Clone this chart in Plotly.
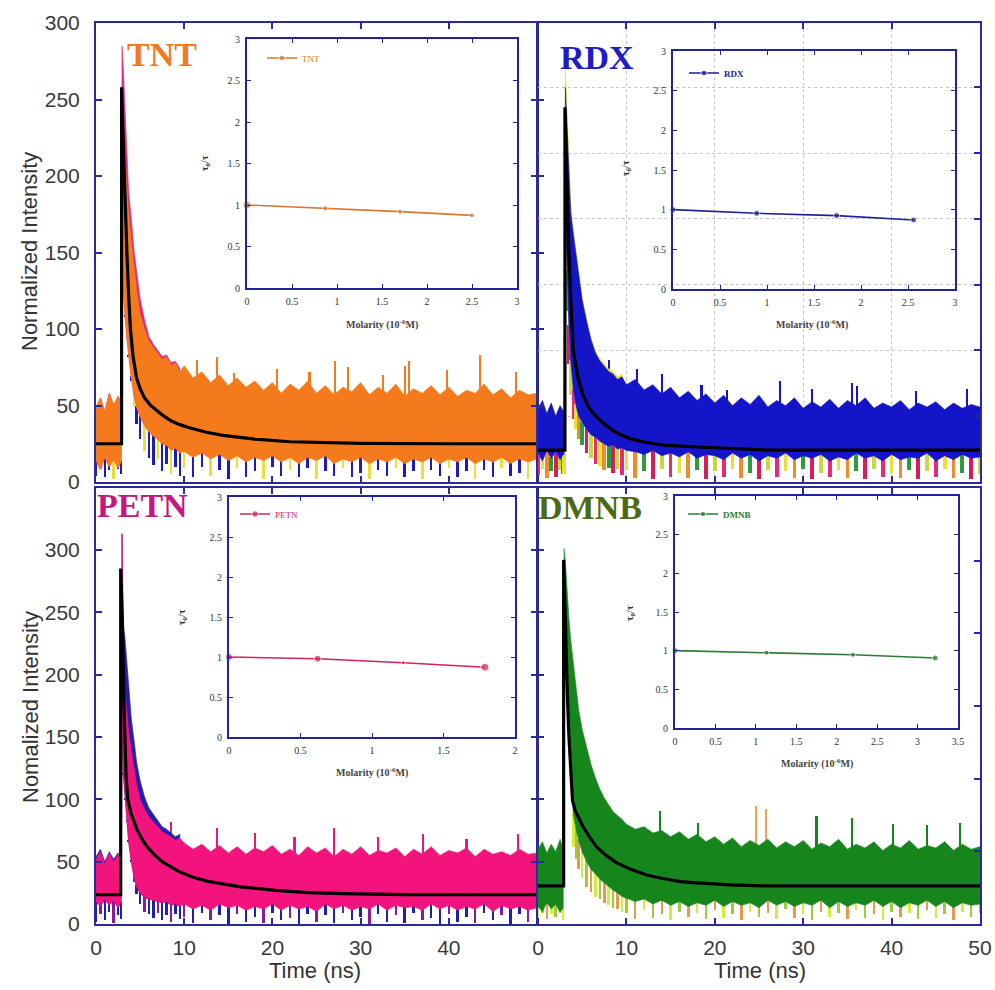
import numpy as np
import plotly.graph_objects as go

# ---------------- time grid (ns) shared by the decay envelopes ----------------
T = [0, 0.5, 1, 1.5, 2, 2.5, 2.85,
     2.95, 3.1, 3.3, 3.5, 3.7, 4.0, 4.3, 4.6, 5.0, 5.5, 6.0, 6.5, 7.0, 7.5, 8.0, 8.5, 9.0, 9.5] + list(range(10, 51))
T_EARLY = T[:25]

# ---------------- TNT decay (normalized counts) ----------------
tnt_hi = [48, 55, 46, 58, 50, 56, 52,
          250, 232, 212, 192, 176, 158, 140, 126, 110, 100, 92, 88, 84, 80, 82, 76, 78, 72,
          76, 68, 72, 65, 70, 63, 68, 62, 66, 60,
          65, 58, 64, 60, 66, 58, 63, 57, 62, 59,
          65, 57, 62, 58, 64, 56, 61, 58, 63, 57,
          62, 56, 60, 58, 64, 57, 61, 55, 60, 57, 58]
tnt_lo = [14, 8, 16, 10, 15, 9, 13,
          150, 125, 108, 94, 82, 68, 57, 49, 43, 37, 33, 30, 28, 25, 24, 21, 22, 19,
          20, 16, 19, 15, 18, 14, 17, 13, 16, 14,
          17, 13, 16, 12, 16, 14, 17, 12, 15, 13,
          16, 12, 15, 13, 16, 12, 15, 13, 16, 12,
          15, 13, 16, 12, 15, 13, 16, 12, 15, 13, 15]
tnt_lo2 = [4, 10, 3, 8, 2, 9, 5,
           150, 125, 108, 94, 82, 66, 50, 38, 28, 20, 16, 11, 15, 7, 12, 5, 10, 4,
           9, 3, 10, 4, 8, 2, 9, 3, 7, 2,
           10, 4, 8, 3, 9, 2, 7, 4, 9, 3,
           6, 2, 8, 4, 9, 3, 7, 2, 8, 4,
           9, 3, 7, 2, 8, 3, 9, 4, 6, 2, 8]
tnt_hi2 = [48, 55, 46, 58, 50, 56, 52,
           285, 270, 240, 210, 190, 172, 152, 138, 120, 106, 95, 90, 86, 82, 83, 78, 79, 74]
tnt_spk_t = [11.5, 13.7, 15.6, 20.5, 24.2, 27.1, 28.6, 32.5, 35.0, 35.5, 39.8, 43.5, 47.6]
tnt_spk_v = [80, 82, 71, 74, 72, 79, 75, 70, 76, 79, 73, 83, 72]
tnt_fit_t = [0, 2.9, 2.9, 3.05, 3.2, 3.35, 3.5, 3.7, 3.9, 4.2, 4.6, 5.0, 5.5, 6.2, 6.9, 7.7,
             8.5, 9.5, 10.6, 12.5, 14.4, 18, 22, 26, 30, 40, 50]
tnt_fit_v = [25, 25, 258, 228, 200, 174, 150, 122, 100, 82, 68, 61, 55, 50, 46.5, 43,
             40, 37.5, 35.5, 32.5, 30.5, 28, 26.3, 25.5, 25.2, 25, 25]

# ---------------- RDX decay ----------------
rdx_hi = [55, 62, 52, 60, 50, 58, 54,
          54, 300, 265, 232, 205, 188, 172, 155, 138, 122, 108, 98, 92, 88, 84, 82, 78, 80,
          74, 78, 70, 74, 67, 72, 64, 69, 62, 67,
          60, 66, 58, 64, 59, 66, 57, 62, 58, 64,
          56, 61, 57, 63, 56, 62, 58, 64, 56, 60,
          57, 62, 55, 60, 57, 61, 55, 60, 56, 59, 57]
rdx_lo = [22, 16, 24, 18, 23, 17, 21,
          21, 210, 160, 118, 92, 70, 58, 50, 45, 40, 36, 34, 31, 29, 27, 28, 25, 26,
          24, 23, 21, 24, 20, 22, 19, 23, 18, 21,
          20, 17, 22, 18, 21, 16, 20, 18, 22, 17,
          20, 18, 21, 16, 19, 17, 22, 18, 20, 16,
          21, 17, 19, 18, 22, 16, 20, 17, 21, 18, 19]
rdx_lo2 = [5, 10, 3, 8, 4, 9, 6,
           6, 210, 130, 90, 66, 48, 40, 33, 28, 22, 18, 14, 12, 9, 11, 7, 10, 5,
           9, 3, 8, 2, 10, 4, 7, 3, 9, 2,
           8, 4, 10, 3, 7, 2, 9, 4, 8, 3,
           10, 2, 7, 4, 9, 3, 8, 2, 10, 4,
           7, 3, 9, 2, 8, 4, 10, 3, 7, 2, 6]
rdx_hi2 = [55, 62, 52, 60, 50, 58, 54,
           54, 315, 280, 240, 212, 192, 176, 158, 141, 124, 110, 100, 94, 90, 86, 84, 80, 82]
rdx_spk_t = [8.0, 11.2, 14.0, 18.5, 21.4, 27.4, 31.0, 35.5, 36.1, 42.8, 48.5]
rdx_spk_v = [93, 86, 82, 74, 70, 77, 71, 75, 73, 69, 71]
rdx_fit_t = [0, 3.05, 3.05, 3.2, 3.35, 3.5, 3.7, 4.0, 4.5, 5.1, 5.8, 6.7, 7.6, 8.5, 9.5,
             10.4, 12.3, 14.2, 18, 21.7, 25.5, 30, 40, 50]
rdx_fit_v = [24.3, 24.3, 285, 245, 205, 175, 140, 100, 80, 66, 56, 49, 43.5, 39, 35.5,
             33, 30, 28, 26.6, 25.5, 24.5, 24.3, 24.3, 24.3]

# ---------------- PETN decay ----------------
petn_hi = [52, 58, 48, 57, 50, 56, 51,
           313, 200, 185, 170, 155, 140, 125, 112, 100, 92, 86, 82, 78, 74, 72, 70, 67, 69,
           65, 60, 64, 58, 63, 57, 62, 56, 61, 58,
           63, 56, 60, 55, 62, 57, 61, 54, 60, 56,
           62, 55, 59, 57, 61, 54, 60, 56, 62, 55,
           59, 57, 61, 54, 60, 56, 58, 55, 60, 56, 57]
petn_lo = [18, 14, 20, 15, 19, 13, 17,
           150, 120, 100, 82, 66, 50, 38, 30, 25, 21, 20, 19, 18, 17, 18, 15, 16, 14,
           16, 12, 15, 11, 16, 13, 15, 11, 14, 12,
           16, 11, 15, 12, 14, 10, 16, 12, 15, 11,
           14, 12, 16, 11, 15, 13, 14, 11, 16, 12,
           15, 11, 14, 12, 16, 10, 15, 12, 14, 11, 13]
petn_lo2 = [2, 8, 3, 10, 1, 7, 4,
            150, 120, 100, 82, 66, 50, 34, 24, 16, 10, 8, 5, 9, 3, 7, 2, 8, 4,
            6, 1, 9, 3, 7, 0, 8, 2, 6, 1,
            9, 3, 5, 0, 8, 2, 7, 1, 9, 3,
            6, 0, 8, 2, 7, 1, 9, 3, 5, 0,
            8, 2, 6, 1, 9, 3, 7, 0, 8, 2, 5]
petn_hi2 = [54, 60, 50, 58, 52, 57, 53,
            313, 240, 228, 210, 190, 165, 148, 130, 115, 102, 93, 88, 82, 78, 76, 73, 70, 72]
petn_spk_t = [8.5, 13.7, 18.0, 22.5, 27.0, 32.0, 37.1, 42.0, 47.8]
petn_spk_v = [82, 77, 73, 70, 77, 70, 72, 68, 72]
petn_fit_t = [0, 2.8, 2.8, 3.0, 3.2, 3.4, 3.6, 4.0, 4.7, 5.3, 5.9, 6.7, 7.5, 8.4, 9.4,
              11, 12.5, 14.5, 16.4, 20.3, 24, 28, 35, 50]
petn_fit_v = [23.5, 23.5, 285, 240, 170, 120, 100, 88, 75, 67, 61, 55, 50, 46, 42,
              37.5, 34.5, 32, 29.8, 27, 25.2, 24.3, 23.6, 23.5]

# ---------------- DMNB decay ----------------
dmnb_hi = [60, 66, 57, 64, 58, 68, 60,
           301, 290, 265, 245, 228, 208, 190, 172, 156, 142, 128, 117, 108, 101, 95, 90, 87, 84,
           80, 76, 78, 73, 75, 70, 74, 68, 72, 66,
           70, 64, 69, 62, 67, 63, 68, 61, 66, 62,
           67, 60, 65, 62, 68, 60, 64, 61, 66, 59,
           64, 61, 67, 60, 63, 61, 66, 59, 64, 60, 62]
dmnb_lo = [14, 10, 17, 12, 16, 9, 13,
           240, 230, 190, 150, 120, 88, 76, 67, 58, 50, 44, 40, 36, 33, 30, 27, 25, 22,
           21, 18, 20, 16, 19, 15, 18, 14, 17, 15,
           19, 14, 18, 15, 17, 13, 19, 15, 18, 14,
           17, 15, 19, 13, 18, 14, 17, 15, 19, 14,
           18, 13, 17, 15, 19, 14, 18, 13, 17, 15, 16]
dmnb_lo2 = [5, 9, 4, 8, 6, 10, 3,
            240, 230, 190, 150, 120, 62, 52, 44, 37, 30, 26, 22, 20, 17, 15, 13, 12, 10,
            9, 4, 11, 5, 8, 3, 10, 6, 9, 4,
            11, 5, 8, 3, 10, 6, 9, 4, 12, 5,
            8, 3, 10, 6, 9, 4, 11, 5, 8, 3,
            10, 6, 9, 4, 11, 5, 8, 3, 10, 6, 9]
dmnb_spk_t = [8.1, 13.8, 18.1, 24.7, 25.8, 31.5, 35.5, 40.2, 44.0, 47.7]
dmnb_spk_v = [94, 91, 81, 95, 92, 87, 85, 80, 79, 81]
dmnb_fit_t = [0, 2.9, 2.9, 3.05, 3.2, 3.35, 3.5, 3.7, 3.9, 4.2, 4.6, 5.1, 5.8, 6.6, 7.7,
              8.9, 10.4, 12.3, 14.1, 16.1, 18, 21.7, 25.5, 35, 50]
dmnb_fit_v = [30.5, 30.5, 292, 250, 210, 178, 150, 120, 99, 91, 85, 78, 70, 62, 55,
              49, 44, 39.3, 36.5, 34, 33, 31.3, 30.5, 30.5, 30.5]

# ---------------- Stern-Volmer insets: tau0/tau vs molarity (10^-6 M) ----------------
tnt_c, tnt_r = [0, 0.87, 1.70, 2.50], [1.0, 0.96, 0.92, 0.875]
rdx_c, rdx_r = [0, 0.89, 1.74, 2.56], [1.0, 0.954, 0.925, 0.87]
petn_c, petn_r = [0, 0.62, 1.22, 1.79], [1.0, 0.979, 0.928, 0.872]
dmnb_c, dmnb_r = [0, 1.13, 2.20, 3.22], [1.0, 0.974, 0.948, 0.905]

for arr in (tnt_hi, tnt_lo, tnt_lo2, rdx_hi, rdx_lo, rdx_lo2, petn_hi, petn_lo, petn_lo2,
            dmnb_hi, dmnb_lo, dmnb_lo2):
    assert len(arr) == len(T), len(arr)
for arr in (tnt_hi2, rdx_hi2, petn_hi2):
    assert len(arr) == len(T_EARLY), len(arr)

# ---------------- styling ----------------
W, H = 995, 990
FRAME = '#2a2a9a'
SANS = 'Liberation Sans, Arial, sans-serif'
SERIF = 'Liberation Serif, Times New Roman, serif'
TICKFONT = dict(family=SANS, size=21, color='#3a3a3a')
INSET_FONT = dict(family=SERIF, size=10, color='#333333')


def fx(x):
    return x / W


def fy(y):
    return (H - y) / H


def px_x(a, b):
    return [fx(a), fx(b)]


def px_y(top, bottom):
    return [fy(bottom), fy(top)]


XL, XR = px_x(96, 537), px_x(538, 980)
YT, YB = px_y(23, 482), px_y(488, 924)

fig = go.Figure()


def band(xs, lo, hi, color, xa, ya):
    xs = list(xs)
    fig.add_trace(go.Scatter(x=xs + xs[::-1], y=list(hi) + list(lo)[::-1], fill='toself',
                             fillcolor=color, mode='lines', line=dict(width=0.6, color=color),
                             hoverinfo='skip', showlegend=False, xaxis=xa, yaxis=ya))


def spikes(xs, base, top, colors, width, xa, ya):
    fig.add_trace(go.Bar(x=xs, base=base, y=[t - b for t, b in zip(top, base)], width=width,
                         marker=dict(color=colors, line=dict(width=0)),
                         hoverinfo='skip', showlegend=False, xaxis=xa, yaxis=ya))


def decay(hi, lo, lo2, hi2, spk_t, spk_v, fit_t, fit_v, main_col, back_col, low_cols,
          spk_cols, xa, ya, low_width=0.28):
    cols = [low_cols[i % len(low_cols)] for i in range(len(T))]
    spikes(T, lo2, [l + 1 for l in lo], cols, low_width, xa, ya)
    if hi2 is not None:
        band(T_EARLY, lo[:len(T_EARLY)], hi2, back_col, xa, ya)
    band(T, lo, hi, main_col, xa, ya)
    base = list(np.interp(spk_t, T, hi) - 3)
    spikes(spk_t, base, spk_v, spk_cols, 0.24, xa, ya)
    fig.add_trace(go.Scatter(x=fit_t, y=fit_v, mode='lines', line=dict(color='black', width=3.2),
                             hoverinfo='skip', showlegend=False, xaxis=xa, yaxis=ya))


decay(tnt_hi, tnt_lo, tnt_lo2, tnt_hi2, tnt_spk_t, tnt_spk_v, tnt_fit_t, tnt_fit_v,
      '#f47a1c', '#e0287e', ['#1b1bc4', '#e6e23a', '#1b1bc4'], '#f47a1c', 'x', 'y')
decay(rdx_hi, rdx_lo, rdx_lo2, rdx_hi2, rdx_spk_t, rdx_spk_v, rdx_fit_t, rdx_fit_v,
      '#1414c8', '#e4e43c', ['#e8287a', '#e6e23a', '#f08a2a', '#2c9c3c', '#d81e5a', '#c8d840'],
      '#1414c8', 'x2', 'y3', low_width=0.42)
decay(petn_hi, petn_lo, petn_lo2, petn_hi2, petn_spk_t, petn_spk_v, petn_fit_t, petn_fit_v,
      '#f2137c', '#2020b0', ['#2020b0', '#8a1a9a', '#2020b0'], '#f2137c', 'x3', 'y4')
decay(dmnb_hi, dmnb_lo, dmnb_lo2, None, dmnb_spk_t, dmnb_spk_v, dmnb_fit_t, dmnb_fit_v,
      '#16861c', None, ['#d4ec3a', '#9ccc3c', '#e89a4a'],
      ['#16861c', '#16861c', '#16861c', '#f0a050', '#f0a050', '#16861c', '#16861c',
       '#16861c', '#16861c', '#16861c'], 'x4', 'y5')

# keep the left-hand axes of RDX / DMNB panels alive
fig.add_trace(go.Scatter(x=[], y=[], xaxis='x2', yaxis='y2', showlegend=False))
fig.add_trace(go.Scatter(x=[], y=[], xaxis='x4', yaxis='y6', showlegend=False))

# insets
insets = [
    ('TNT', tnt_c, tnt_r, '#d8782e', 'x5', 'y7', 'legend', [8, 5, 5, 5]),
    ('RDX', rdx_c, rdx_r, '#1e1e96', 'x6', 'y8', 'legend2', [6, 6, 6, 6]),
    ('PETN', petn_c, petn_r, '#d0245c', 'x7', 'y9', 'legend3', [7, 7, 4, 8]),
    ('DMNB', dmnb_c, dmnb_r, '#2c7a36', 'x8', 'y10', 'legend4', [6, 5, 5, 6]),
]
for name, c, r, col, xa, ya, lg, sizes in insets:
    fig.add_trace(go.Scatter(x=c, y=r, mode='lines+markers', name=name, legend=lg,
                             line=dict(color=col, width=1.6),
                             marker=dict(color=col, size=sizes, symbol='circle'),
                             cliponaxis=False, xaxis=xa, yaxis=ya))


def main_x(dom, anchor, labels=None, grid=False):
    d = dict(domain=dom, anchor=anchor, range=[0, 50], showline=True, linecolor=FRAME,
             linewidth=2, mirror='ticks', ticks='inside', ticklen=6, tickwidth=1.5,
             tickcolor=FRAME, tickvals=[0, 10, 20, 30, 40, 50], zeroline=False,
             showgrid=grid, gridcolor='#c4c4c4', griddash='dot', gridwidth=1,
             tickfont=TICKFONT, ticklabelstandoff=4)
    if labels is None:
        d['showticklabels'] = False
    else:
        d['ticktext'] = labels
    return d


def main_y(dom, anchor, rng, labels, mirror='ticks'):
    return dict(domain=dom, anchor=anchor, range=rng, showline=True, linecolor=FRAME,
                linewidth=2, mirror=mirror, ticks='inside', ticklen=6, tickwidth=1.5,
                tickcolor=FRAME, tickvals=[0, 50, 100, 150, 200, 250, 300], zeroline=False,
                showgrid=False, tickfont=TICKFONT, ticklabelstandoff=10,
                showticklabels=labels)


def side_y(over, anchor, rng, grid):
    return dict(overlaying=over, anchor=anchor, side='right', range=rng, dtick=50,
                ticks='inside', ticklen=6, tickwidth=1.5, tickcolor=FRAME,
                showticklabels=False, showline=False, zeroline=False,
                showgrid=grid, gridcolor='#c4c4c4', griddash='dot', gridwidth=1)


def inset_axes(xdom, ydom, xmax, xa, ya):
    common = dict(showline=True, linecolor='#22229a', linewidth=2, mirror='ticks',
                  ticks='inside', ticklen=4, tickwidth=1.3, tickcolor='#22229a',
                  zeroline=False, showgrid=False, dtick=0.5, tickfont=INSET_FONT,
                  ticklabelstandoff=3)
    xd = dict(common, domain=xdom, anchor=ya, range=[0, xmax])
    yd = dict(common, domain=ydom, anchor=xa, range=[0, 3])
    return xd, yd


PETN_TOP = 436 / 1.247
lay = dict(
    width=W, height=H, margin=dict(l=0, r=0, t=0, b=0, autoexpand=False),
    paper_bgcolor='white', plot_bgcolor='rgba(0,0,0,0)', barmode='overlay', bargap=0,
    xaxis=main_x(XL, 'y'),
    yaxis=main_y(YT, 'x', [0, 300], True),
    xaxis2=main_x(XR, 'y2', grid=True),
    yaxis2=main_y(YT, 'x2', [0, 300], False, mirror=True),
    yaxis3=side_y('y2', 'x2', [0, 349], True),
    xaxis3=main_x(XL, 'y4', labels=['0', '10', '20', '30', '40', '']),
    yaxis4=main_y(YB, 'x3', [0, PETN_TOP], True),
    xaxis4=main_x(XR, 'y5', labels=['0', '10', '20', '30', '40', '50']),
    yaxis5=main_y(YB, 'x4', [0, PETN_TOP], False, mirror=True),
    yaxis6=side_y('y5', 'x4', [0, 300], False),
)
for (xd, yd, xmax, xa, ya, xk, yk) in [
        (px_x(247, 517), px_y(39, 288), 3, 'x5', 'y7', 'xaxis5', 'yaxis7'),
        (px_x(673, 955), px_y(51, 289), 3, 'x6', 'y8', 'xaxis6', 'yaxis8'),
        (px_x(229, 515), px_y(497, 737), 2, 'x7', 'y9', 'xaxis7', 'yaxis9'),
        (px_x(675, 958), px_y(496, 728), 3.5, 'x8', 'y10', 'xaxis8', 'yaxis10')]:
    a, b = inset_axes(xd, yd, xmax, xa, ya)
    lay[xk], lay[yk] = a, b

legend_pos = [('legend', 262, 58, '#d8782e', 'normal'), ('legend2', 684, 73, '#1e1e96', 'bold'),
              ('legend3', 235, 514, '#d0245c', 'normal'), ('legend4', 683, 514, '#2c7a36', 'bold')]
for key, lx, ly, col, wt in legend_pos:
    lay[key] = dict(x=fx(lx), y=fy(ly), xanchor='left', yanchor='middle',
                    bgcolor='rgba(0,0,0,0)', borderwidth=0, itemwidth=30,
                    font=dict(family=SERIF, size=9, color=col, weight=wt))
fig.update_layout(**lay)


def note(text, x, y, size, color, family=SANS, angle=0, xanchor='center', yanchor='middle'):
    fig.add_annotation(text=text, x=fx(x), y=fy(y), xref='paper', yref='paper',
                       showarrow=False, textangle=angle, xanchor=xanchor, yanchor=yanchor,
                       font=dict(family=family, size=size, color=color))


# panel titles
note('<b>TNT</b>', 125, 54, 34, '#f07a22', SERIF, xanchor='left')
note('<b>RDX</b>', 558, 57, 34, '#1c1cc8', SERIF, xanchor='left')
note('<b>PETN</b>', 95, 506, 34, '#c41880', SERIF, xanchor='left')
note('<b>DMNB</b>', 536, 507, 34, '#4c6a14', SERIF, xanchor='left')

# main axis titles
note('Normalized Intensity', 30, 252, 22, '#333333', angle=-90)
note('Nomalized Intensity', 30, 707, 22, '#333333', angle=-90)
note('Time (ns)', 315, 970, 22, '#333333')
note('Time (ns)', 760, 970, 22, '#333333')

# inset axis titles
for x, y in [(206, 163), (627, 168), (182, 617), (630, 613)]:
    note('<b>τ<sub>0</sub>/τ</b>', x, y, 10, '#333333', SERIF, angle=-90)
for x, y in [(382, 324), (812, 324), (372, 772), (817, 763)]:
    note('<b>Molarity (10<sup>-6</sup>M)</b>', x, y, 10, '#444444', SERIF)

fig.write_html('out.html')
